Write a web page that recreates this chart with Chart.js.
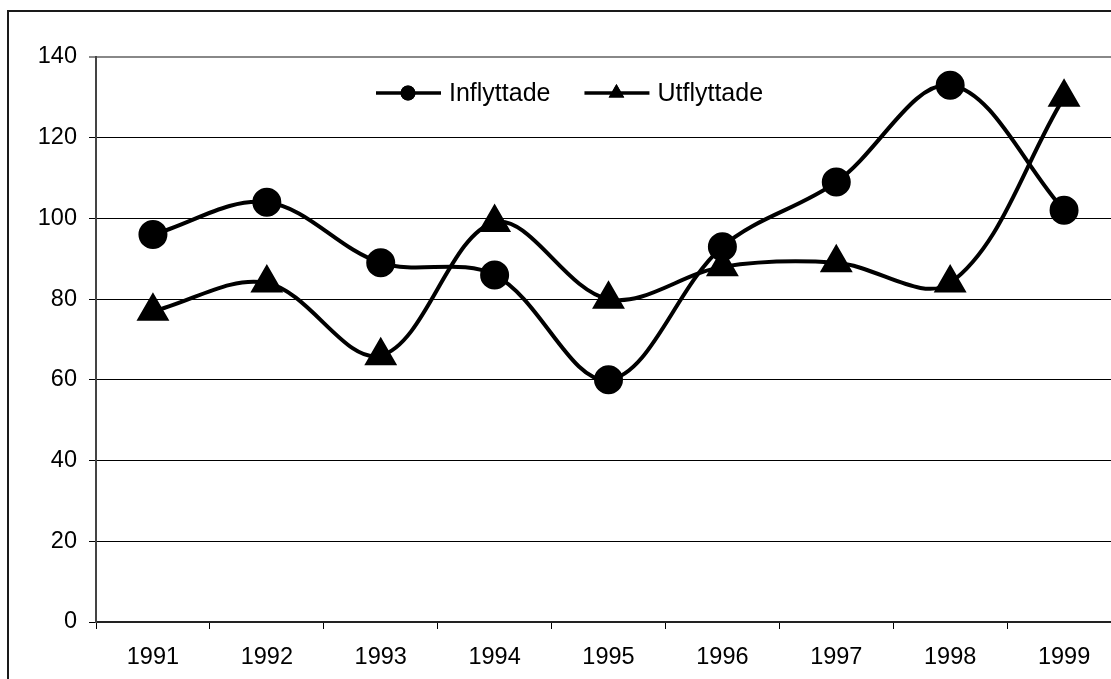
<!DOCTYPE html>
<html>
<head>
<meta charset="utf-8">
<script src="https://cdn.jsdelivr.net/npm/chart.js@4/dist/chart.umd.min.js"></script>
<style>
  html, body { margin: 0; padding: 0; background: #fff; overflow: hidden; }
  #frame { position: absolute; left: 7px; top: 10px; width: 1300px; height: 900px; border: 2px solid #1a1a1a; }
  #wrap { position: absolute; left: 0; top: 0; width: 1140px; height: 679px; }
</style>
</head>
<body>
<div id="frame"></div>
<div id="wrap"><canvas id="grafico"></canvas></div>
<script>
// dati
const anni = ['1991', '1992', '1993', '1994', '1995', '1996', '1997', '1998', '1999'];
const inflyttade = [96, 104, 89, 86, 60, 93, 109, 133, 102];
const utflyttade = [77, 84, 66, 99, 80, 88, 89, 84, 130];
const yMin = 0;
const yMax = 140;
const yStep = 20;

const FONT = 'Liberation Sans, Arial, sans-serif';

// legenda disegnata a mano: linea + marker + testo
const legendaExcel = {
  id: 'legendaExcel',
  afterDraw(chart) {
    const ctx = chart.ctx;
    const area = chart.chartArea;
    let x = area.left + 280;
    const y = area.top + 36;
    ctx.save();
    ctx.font = '25px ' + FONT;
    ctx.textBaseline = 'middle';
    ctx.fillStyle = '#000';
    chart.data.datasets.forEach(ds => {
      ctx.strokeStyle = '#000';
      ctx.lineWidth = 3.5;
      ctx.beginPath();
      ctx.moveTo(x, y);
      ctx.lineTo(x + 65, y);
      ctx.stroke();
      const r = ds.pointStyle === 'triangle' ? 9 : 7.5;
      Chart.helpers.drawPoint(ctx, { pointStyle: ds.pointStyle, radius: r, rotation: 0, borderWidth: 0 }, x + 32, y);
      ctx.fillStyle = '#000';
      ctx.fill();
      ctx.fillText(ds.label, x + 73, y + 1);
      x += 73 + ctx.measureText(ds.label).width + 34;
    });
    ctx.restore();
  }
};

new Chart(document.getElementById('grafico').getContext('2d'), {
  type: 'line',
  data: {
    labels: anni,
    datasets: [{
      label: 'Inflyttade',
      data: inflyttade,
      borderColor: '#000',
      backgroundColor: '#000',
      borderWidth: 4,
      pointStyle: 'circle',
      pointRadius: 12.5,
      pointHoverRadius: 12.5,
      tension: 0.35,
      fill: false
    }, {
      label: 'Utflyttade',
      data: utflyttade,
      borderColor: '#000',
      backgroundColor: '#000',
      borderWidth: 4,
      pointStyle: 'triangle',
      pointRadius: 15,
      pointHoverRadius: 15,
      tension: 0.35,
      fill: false
    }]
  },
  options: {
    responsive: true,
    maintainAspectRatio: false,
    animation: false,
    events: [],
    layout: { padding: { left: 0, top: 57, right: 17, bottom: 0 } },
    plugins: {
      legend: { display: false },
      tooltip: { enabled: false }
    },
    scales: {
      x: {
        offset: true,
        grid: {
          offset: true,
          drawOnChartArea: false,
          color: '#000',
          lineWidth: 1,
          tickLength: 7
        },
        border: { display: true, color: '#222', width: 2 },
        ticks: { color: '#000', font: { family: FONT, size: 23.5 }, padding: 14, maxRotation: 0 },
        afterFit(scale) { scale.height = 57; }
      },
      y: {
        min: yMin,
        max: yMax,
        grid: {
          color: ctx => (ctx.tick && ctx.tick.value === yMax) ? '#888' : '#000',
          lineWidth: ctx => (ctx.tick && ctx.tick.value === yMax) ? 2 : 1,
          tickLength: 7
        },
        border: { display: true, color: '#444', width: 2 },
        ticks: { stepSize: yStep, color: '#000', font: { family: FONT, size: 23.5 }, padding: 12 },
        afterFit(scale) { scale.width = 96; }
      }
    }
  },
  plugins: [legendaExcel]
});
</script>
</body>
</html>
